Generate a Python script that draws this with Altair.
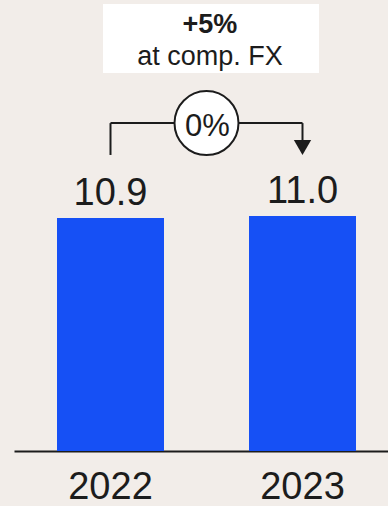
import altair as alt
import pandas as pd

# Revenue by year (bars) and the change annotations above them
years = ["2022", "2023"]
values = [10.9, 11.0]
change_label = "0%"
fx_change = "+5%"
fx_note = "at comp. FX"

INK = "#1c1c1c"
BLUE = "#1650f5"
BG = "#f2ede9"
FONT = "Liberation Sans"

bars_df = pd.DataFrame({"pos": [0, 1], "year": years, "value": values})

# One table for every annotation piece: a/a2 along the year axis, v/v2 on the value axis
ann_df = pd.DataFrame([
    {"part": "box", "a": -0.039, "a2": 1.086, "v": 17.68, "v2": 20.91, "label": ""},
    {"part": "fx_bold", "a": 0.518, "a2": 0.518, "v": 19.55, "v2": 19.55, "label": fx_change},
    {"part": "fx_note", "a": 0.518, "a2": 0.518, "v": 18.06, "v2": 18.06, "label": fx_note},
    {"part": "stem", "a": 0.0, "a2": 0.0, "v": 13.85, "v2": 15.34, "label": ""},
    {"part": "stem", "a": 1.0, "a2": 1.0, "v": 15.34, "v2": 14.3, "label": ""},
    {"part": "span", "a": 0.0, "a2": 1.0, "v": 15.34, "v2": 15.34, "label": ""},
    {"part": "arrow", "a": 1.0, "a2": 1.0, "v": 14.2, "v2": 14.2, "label": ""},
    {"part": "badge", "a": 0.5, "a2": 0.5, "v": 15.34, "v2": 15.34, "label": ""},
    {"part": "badge_text", "a": 0.5, "a2": 0.5, "v": 14.76, "v2": 14.76, "label": change_label},
])

x_scale = alt.Scale(domain=[-0.5026, 1.4453], nice=False, zero=False, padding=0)
y_scale = alt.Scale(domain=[0, 21.1], nice=False, zero=True, padding=0)


def part(name):
    return alt.Chart(ann_df).transform_filter(alt.datum.part == name)


bars = alt.Chart(bars_df).mark_bar(size=107, color=BLUE).encode(
    x=alt.X("pos:Q", scale=x_scale,
            axis=alt.Axis(values=[0, 1], labels=False, title=None,
                          grid=False, ticks=False,
                          domainColor=INK, domainWidth=2)),
    y=alt.Y("value:Q", scale=y_scale, axis=None),
)

value_labels = alt.Chart(bars_df).mark_text(
    font=FONT, fontSize=38, color=INK, baseline="alphabetic", dy=-13
).encode(x="pos:Q", y="value:Q", text=alt.Text("value:Q", format=".1f"))

year_labels = alt.Chart(bars_df).mark_text(
    font=FONT, fontSize=38, color=INK, baseline="alphabetic", dy=48
).encode(x="pos:Q", y=alt.datum(0), text="year:N")

box = part("box").mark_rect(color="white").encode(
    x="a:Q", x2="a2:Q", y="v:Q", y2="v2:Q"
)
box_bold = part("fx_bold").mark_text(
    font=FONT, fontSize=27, fontWeight="bold", color=INK, baseline="alphabetic"
).encode(x="a:Q", y="v:Q", text="label:N")
box_plain = part("fx_note").mark_text(
    font=FONT, fontSize=27, color=INK, baseline="alphabetic"
).encode(x="a:Q", y="v:Q", text="label:N")

stems = part("stem").mark_rule(color=INK, strokeWidth=2).encode(
    x="a:Q", y="v:Q", y2="v2:Q"
)
span = part("span").mark_rule(color=INK, strokeWidth=2).encode(
    x="a:Q", x2="a2:Q", y="v:Q"
)
arrow = part("arrow").mark_point(
    shape="triangle-down", size=300, filled=True, color=INK, opacity=1
).encode(x="a:Q", y="v:Q")
badge = part("badge").mark_point(
    shape="circle", size=4096, filled=True, color="white",
    stroke=INK, strokeWidth=2, opacity=1
).encode(x="a:Q", y="v:Q")
badge_text = part("badge_text").mark_text(
    font=FONT, fontSize=31, color=INK, baseline="alphabetic", dx=1
).encode(x="a:Q", y="v:Q", text="label:N")

chart = alt.layer(
    bars, value_labels, year_labels,
    box, box_bold, box_plain, stems, span, arrow, badge, badge_text
).properties(
    width=374,
    height=451,
    background=BG,
    padding={"left": 14, "right": 0, "top": 0, "bottom": 55},
    autosize=alt.AutoSizeParams(type="none"),
).configure_view(strokeWidth=0)

chart.save("out.html", embed_options={"renderer": "svg", "actions": False})
